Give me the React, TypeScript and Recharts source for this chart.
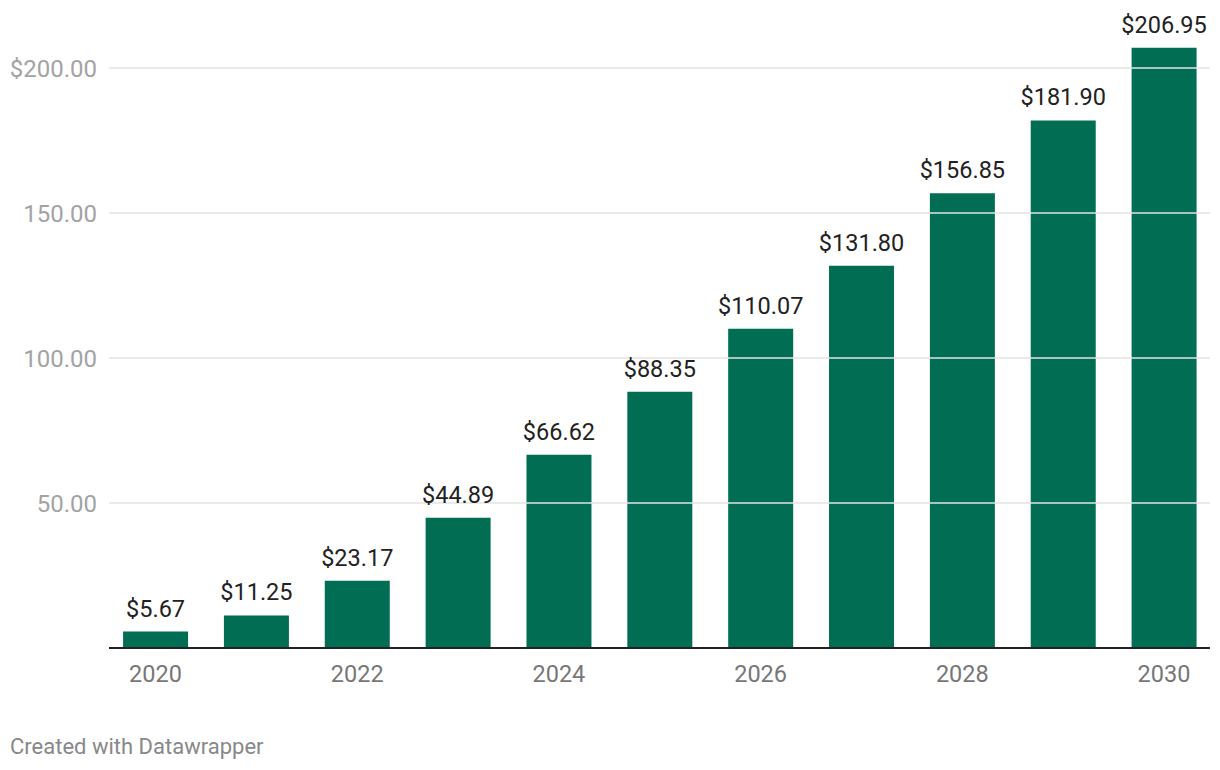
import React from "react";
import { BarChart, Bar, XAxis, YAxis, ReferenceLine, LabelList } from "recharts";

const years = [2020, 2021, 2022, 2023, 2024, 2025, 2026, 2027, 2028, 2029, 2030];
const values = [5.67, 11.25, 23.17, 44.89, 66.62, 88.35, 110.07, 131.8, 156.85, 181.9, 206.95];
const xTicks = [2020, 2022, 2024, 2026, 2028, 2030];
const yTicks = [0, 50, 100, 150, 200];
const gridValues = [50, 100, 150, 200];

const data = years.map((y, i) => ({ year: y, value: values[i] }));

const fmtY = (v: number) => (v === 0 ? "" : v === 200 ? "$" + v.toFixed(2) : v.toFixed(2));
const fmtLabel = (v: any) => "$" + Number(v).toFixed(2);

export default function App() {
  return (
    <div style={{ position: "absolute", left: 0, top: 0, width: 1220, height: 770, background: "#fff", fontFamily: "Roboto, sans-serif" }}>
      <BarChart
        width={1220}
        height={770}
        data={data}
        margin={{ top: 39, right: 10, bottom: 92, left: 0 }}
      >
        {gridValues.map((g) => (
          <ReferenceLine key={g} y={g} stroke="#e3e3e3" strokeWidth={1.5} />
        ))}
        <XAxis
          dataKey="year"
          type="number"
          domain={[2019.539, 2030.456]}
          ticks={xTicks}
          tickLine={false}
          axisLine={{ stroke: "#222", strokeWidth: 2 }}
          tickMargin={11}
          tick={{ fill: "#777", fontSize: 23.5, fontFamily: "Roboto" }}
          allowDataOverflow
        />
        <YAxis
          type="number"
          domain={[0, 210]}
          ticks={yTicks}
          width={109}
          tickSize={0}
          tickMargin={12}
          axisLine={false}
          tickLine={false}
          tickFormatter={fmtY}
          tick={{ fill: "#a3a3a3", fontSize: 24, fontFamily: "Roboto" }}
        />
        <Bar dataKey="value" fill="#016E54" barSize={65} isAnimationActive={false}>
          <LabelList
            dataKey="value"
            position="top"
            offset={15}
            formatter={fmtLabel}
            style={{ fill: "#222", fontSize: 23.5, fontFamily: "Roboto" }}
          />
        </Bar>
      </BarChart>
      <div style={{ position: "absolute", left: 10, top: 734, fontSize: 22, color: "#888", fontFamily: "Roboto" }}>
        Created with Datawrapper
      </div>
    </div>
  );
}
